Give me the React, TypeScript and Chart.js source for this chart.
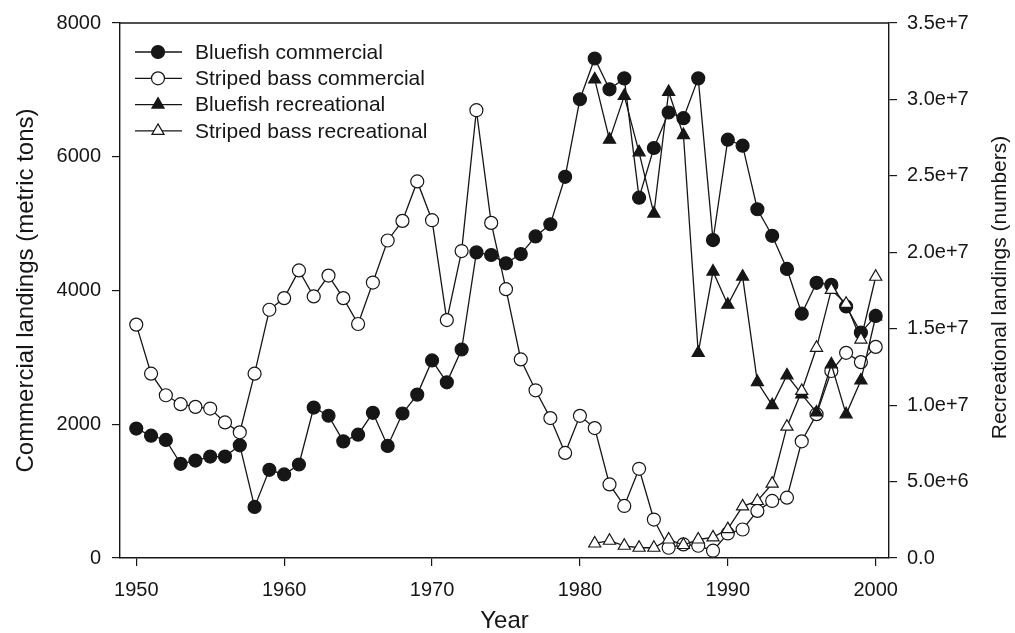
import React, { useEffect, useRef } from 'react';
import { Chart, registerables } from 'chart.js';
import { drawPoint } from 'chart.js/helpers';

Chart.register(...registerables);

// ---------- data ----------
const commercialYears = [
  1950, 1951, 1952, 1953, 1954, 1955, 1956, 1957, 1958, 1959,
  1960, 1961, 1962, 1963, 1964, 1965, 1966, 1967, 1968, 1969,
  1970, 1971, 1972, 1973, 1974, 1975, 1976, 1977, 1978, 1979,
  1980, 1981, 1982, 1983, 1984, 1985, 1986, 1987, 1988, 1989,
  1990, 1991, 1992, 1993, 1994, 1995, 1996, 1997, 1998, 1999,
  2000,
];

const bluefishCommercial = [
  1935, 1829, 1765, 1408, 1457, 1517, 1517, 1685, 763, 1319,
  1249, 1398, 2250, 2127, 1744, 1844, 2171, 1676, 2161, 2443,
  2954, 2627, 3118, 4570, 4531, 4406, 4545, 4808, 4991, 5700,
  6860, 7469, 7008, 7172, 5388, 6131, 6662, 6577, 7172, 4754,
  6255, 6166, 5215, 4818, 4322, 3653, 4115, 4084, 3762, 3370,
  3620,
];

const stripedBassCommercial = [
  3490, 2756, 2434, 2300, 2260, 2235, 2027, 1879, 2756, 3712,
  3886, 4300, 3911, 4223, 3886, 3499, 4119, 4748, 5041, 5631,
  5051, 3558, 4590, 6696, 5011, 4020, 2969, 2508, 2092, 1571,
  2126, 1943, 1100, 778, 1334, 575, 153, 203, 183, 109,
  367, 426, 704, 853, 902, 1745, 2151, 2796, 3068, 2929,
  3157,
];

const recreationalYears = [
  1981, 1982, 1983, 1984, 1985, 1986, 1987, 1988, 1989, 1990,
  1991, 1992, 1993, 1994, 1995, 1996, 1997, 1998, 1999, 2000,
];

const bluefishRecreational = [
  31310000, 27370000, 30230000, 26540000, 22530000, 30490000, 27670000, 13420000, 18740000, 16570000,
  18410000, 11510000, 10000000, 11950000, 10700000, 9520000, 12670000, 9400000, 11620000, 15800000,
];

const stripedBassRecreational = [
  950000, 1130000, 800000, 670000, 670000, 1210000, 850000, 1210000, 1350000, 1890000,
  3380000, 3730000, 4860000, 8590000, 10930000, 13750000, 17540000, 16630000, 14290000, 18400000,
];

const xTickValues = [1950, 1960, 1970, 1980, 1990, 2000];
const leftTickValues = [0, 2000, 4000, 6000, 8000];
const rightTickValues = [0, 5000000, 10000000, 15000000, 20000000, 25000000, 30000000, 35000000];
const rightTickLabels = ['0.0', '5.0e+6', '1.0e+7', '1.5e+7', '2.0e+7', '2.5e+7', '3.0e+7', '3.5e+7'];

const seriesNames = [
  'Bluefish commercial',
  'Striped bass commercial',
  'Bluefish recreational',
  'Striped bass recreational',
];

const xTitle = 'Year';
const leftTitle = 'Commercial landings (metric tons)';
const rightTitle = 'Recreational landings (numbers)';

// ---------- styling ----------
const INK = '#161616';
const FONT = '"Liberation Sans", Arial, Helvetica, sans-serif';

const toPoints = (xs: number[], ys: number[]) => xs.map((x, i) => ({ x, y: ys[i] }));

const legendPlugin = {
  id: 'refLegend',
  afterDatasetsDraw(chart: any) {
    const { ctx, chartArea } = chart;
    ctx.save();
    chart.data.datasets.forEach((ds: any, i: number) => {
      const y = chartArea.top + 29 + i * 26.3;
      const x0 = chartArea.left + 15;
      const x1 = chartArea.left + 62;
      const xm = chartArea.left + 38;
      ctx.strokeStyle = INK;
      ctx.lineWidth = 1.3;
      ctx.beginPath();
      ctx.moveTo(x0, y);
      ctx.lineTo(x1, y);
      ctx.stroke();
      ctx.fillStyle = ds.pointBackgroundColor;
      ctx.strokeStyle = ds.pointBorderColor;
      ctx.lineWidth = ds.pointBorderWidth;
      drawPoint(ctx, { pointStyle: ds.pointStyle, radius: ds.pointRadius, rotation: 0, borderWidth: ds.pointBorderWidth } as any, xm, y);
      ctx.fillStyle = INK;
      ctx.font = `21px ${FONT}`;
      ctx.textBaseline = 'middle';
      ctx.textAlign = 'left';
      ctx.fillText(ds.label, chartArea.left + 75, y + 1);
    });
    ctx.restore();
  },
};

const framePlugin = {
  id: 'topFrame',
  afterDraw(chart: any) {
    const { ctx, chartArea } = chart;
    ctx.save();
    ctx.strokeStyle = INK;
    ctx.lineWidth = 1.3;
    ctx.beginPath();
    ctx.moveTo(chartArea.left, chartArea.top);
    ctx.lineTo(chartArea.right, chartArea.top);
    ctx.stroke();
    // right axis title, reading bottom-to-top
    ctx.fillStyle = INK;
    ctx.font = `21px ${FONT}`;
    ctx.textAlign = 'center';
    ctx.textBaseline = 'middle';
    ctx.translate(1000, (chartArea.top + chartArea.bottom) / 2 - 3);
    ctx.rotate(-Math.PI / 2);
    ctx.fillText(rightTitle, 0, 0);
    ctx.restore();
  },
};

export default function App() {
  const canvasRef = useRef<HTMLCanvasElement | null>(null);

  useEffect(() => {
    if (!canvasRef.current) return;
    const common = { borderColor: INK, borderWidth: 1.3, pointBorderColor: INK, pointBorderWidth: 1.2, tension: 0 };
    const chart = new Chart(canvasRef.current, {
      type: 'line',
      data: {
        datasets: [
          {
            ...common,
            label: seriesNames[0],
            data: toPoints(commercialYears, bluefishCommercial),
            pointStyle: 'circle',
            pointRadius: 6.5,
            pointBackgroundColor: INK,
            yAxisID: 'y',
            order: 4,
          },
          {
            ...common,
            label: seriesNames[1],
            data: toPoints(commercialYears, stripedBassCommercial),
            pointStyle: 'circle',
            pointRadius: 6.5,
            pointBackgroundColor: '#ffffff',
            yAxisID: 'y',
            order: 3,
          },
          {
            ...common,
            label: seriesNames[2],
            data: toPoints(recreationalYears, bluefishRecreational),
            pointStyle: 'triangle',
            pointRadius: 7,
            pointBackgroundColor: INK,
            yAxisID: 'y1',
            order: 2,
          },
          {
            ...common,
            label: seriesNames[3],
            data: toPoints(recreationalYears, stripedBassRecreational),
            pointStyle: 'triangle',
            pointRadius: 7,
            pointBackgroundColor: '#ffffff',
            yAxisID: 'y1',
            order: 1,
          },
        ],
      } as any,
      options: {
        animation: false,
        responsive: false,
        maintainAspectRatio: false,
        layout: { padding: { top: 19, left: 0, right: 0, bottom: 0 } },
        plugins: { legend: { display: false }, tooltip: { enabled: false } },
        scales: {
          x: {
            type: 'linear',
            position: 'bottom',
            min: 1948.9,
            max: 2000.9,
            afterBuildTicks: (scale: any) => {
              scale.ticks = xTickValues.map((v) => ({ value: v }));
            },
            afterFit: (scale: any) => {
              scale.height = 75;
            },
            grid: { drawOnChartArea: false, drawTicks: true, tickLength: 8, color: INK, lineWidth: 1.2 },
            border: { display: true, color: INK, width: 1.4 },
            ticks: {
              color: INK,
              font: { family: FONT, size: 20 },
              padding: 12,
              maxRotation: 0,
              autoSkip: false,
              callback: (v: any) => String(v),
            },
            title: {
              display: true,
              text: xTitle,
              color: INK,
              font: { family: FONT, size: 24, lineHeight: 1 },
              padding: { top: 0, bottom: 0 },
            },
          },
          y: {
            type: 'linear',
            position: 'left',
            min: 0,
            max: 8000,
            afterBuildTicks: (scale: any) => {
              scale.ticks = leftTickValues.map((v) => ({ value: v }));
            },
            afterFit: (scale: any) => {
              scale.width = 120;
            },
            grid: { drawOnChartArea: false, drawTicks: true, tickLength: 8, color: INK, lineWidth: 1.2 },
            border: { display: true, color: INK, width: 1.4 },
            ticks: { color: INK, font: { family: FONT, size: 20 }, padding: 11, callback: (v: any) => String(v) },
            title: {
              display: true,
              text: leftTitle,
              color: INK,
              font: { family: FONT, size: 24 },
              padding: { top: 12, bottom: 0 },
            },
          },
          y1: {
            type: 'linear',
            position: 'right',
            min: 0,
            max: 35000000,
            afterBuildTicks: (scale: any) => {
              scale.ticks = rightTickValues.map((v) => ({ value: v }));
            },
            afterFit: (scale: any) => {
              scale.width = 126;
            },
            grid: { drawOnChartArea: false, drawTicks: true, tickLength: 8, color: INK, lineWidth: 1.2 },
            border: { display: true, color: INK, width: 1.4 },
            ticks: {
              color: INK,
              font: { family: FONT, size: 20 },
              padding: 10,
              callback: (v: any) => rightTickLabels[rightTickValues.indexOf(Number(v))] ?? '',
            },
            title: { display: false },
          },
        },
      } as any,
      plugins: [legendPlugin, framePlugin],
    });
    return () => chart.destroy();
  }, []);

  return (
    <div style={{ position: 'absolute', left: 0, top: 0, width: 1015, height: 633, background: '#ffffff' }}>
      <canvas ref={canvasRef} width={1015} height={633} style={{ width: 1015, height: 633, display: 'block' }} />
    </div>
  );
}
